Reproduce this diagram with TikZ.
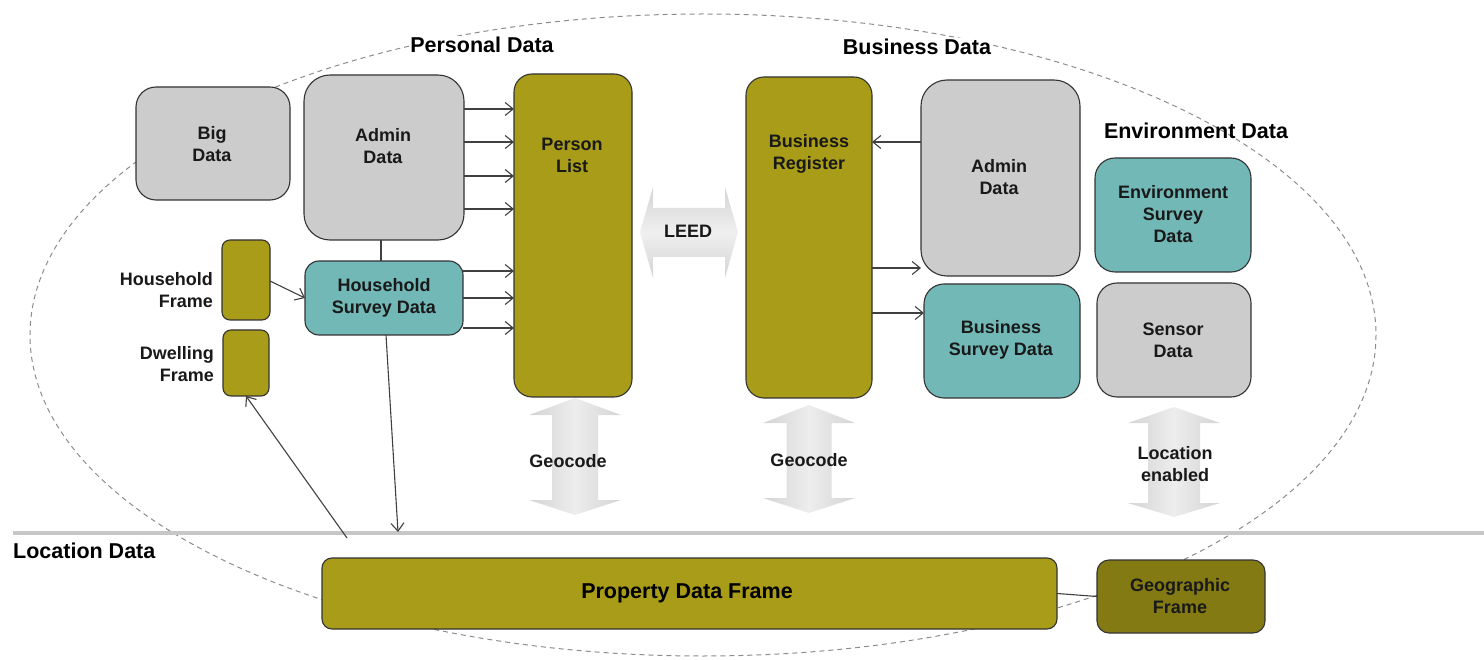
\documentclass[tikz,border=0pt]{standalone}
\usepackage{fontspec}
\setmainfont{Liberation Sans}
\usetikzlibrary{arrows.meta,fit}
\definecolor{olive}{RGB}{168,156,24}
\definecolor{darkolive}{RGB}{132,122,20}
\definecolor{teal2}{RGB}{114,184,182}
\definecolor{lgray}{RGB}{204,204,204}
\definecolor{txt}{RGB}{25,25,25}
\tikzset{
  box/.style={draw=black!80, line width=1.1pt, inner sep=0pt, outer sep=0pt},
  graybox/.style={box, fill=lgray},
  olivebox/.style={box, fill=olive},
  tealbox/.style={box, fill=teal2},
  geobox/.style={box, fill=darkolive},
  btxt/.style={font=\bfseries\fontsize{18}{22}\selectfont, align=center, inner sep=0pt, text=txt},
  htxt/.style={font=\bfseries\fontsize{21.5}{26}\selectfont, inner sep=1pt, text=black},
  arr/.style={draw=black!75, line width=1.1pt, -{Straight Barb[length=8pt,width=13pt]}},
  conn/.style={draw=black!75, line width=1.1pt},
  blockarrow/.style={draw=none},
}
\newcommand{\myvarrow}[7]{% cx ytip hb1 hb2 ybot headhalf shafthalf
  \shade[left color=black!17, right color=black!17, middle color=black!7]
    (#1,#2) -- (#1+#6,#3) -- (#1+#7,#3) -- (#1+#7,#4) -- (#1+#6,#4) -- (#1,#5)
    -- (#1-#6,#4) -- (#1-#7,#4) -- (#1-#7,#3) -- (#1-#6,#3) -- cycle;
}
\begin{document}
\begin{tikzpicture}[x=1pt,y=-1pt]
\useasboundingbox (0,0) rectangle (1484,660);
% dashed ellipse
\draw[black!45, line width=1pt, dash pattern=on 5pt off 4pt] (703,335) ellipse [x radius=673, y radius=321];
% location line
\draw[black!22, line width=4pt] (13,533) -- (1484,533);

% block arrows
\myvarrow{575}{398}{415}{500}{515}{46}{23}
\myvarrow{809}{405}{423}{498}{513}{46}{22.5}
\myvarrow{1174}{407}{423}{503}{517}{46}{26}
\shade[top color=black!17, bottom color=black!17, middle color=black!6]
  (640,232) -- (653,187) -- (653,208) -- (725,208) -- (725,187) -- (738,232)
  -- (725,278) -- (725,257) -- (653,257) -- (653,278) -- cycle;

% boxes
\node[graybox, rounded corners=20pt, fit={(136,87) (290,200)}] (big) {};
\node[graybox, rounded corners=26pt, fit={(304,75) (464,240)}] (adminL) {};
\node[olivebox, rounded corners=18pt, fit={(514,74) (632,397)}] (plist) {};
\node[olivebox, rounded corners=18pt, fit={(746,77) (872,398)}] (breg) {};
\node[graybox, rounded corners=26pt, fit={(921,80) (1080,276)}] (adminR) {};
\node[tealbox, rounded corners=20pt, fit={(924,284) (1080,398)}] (bsurv) {};
\node[tealbox, rounded corners=20pt, fit={(1095,158) (1251,272)}] (envs) {};
\node[graybox, rounded corners=20pt, fit={(1097,283) (1251,397)}] (sensor) {};
\node[olivebox, rounded corners=8pt, fit={(222,240) (270,320)}] (hframe) {};
\node[olivebox, rounded corners=8pt, fit={(223,330) (269,396)}] (dframe) {};
\node[tealbox, rounded corners=14pt, fit={(305,261) (463,335)}] (hsurv) {};
\node[olivebox, rounded corners=10pt, fit={(322,558) (1057,629)}] (pdf) {};
\node[geobox, rounded corners=12pt, fit={(1097,560) (1265,633)}] (geo) {};

% box texts
\node[btxt] (tbig) at (212,144) {Big\\Data};
\node[btxt] (tadminL) at (383,146) {Admin\\Data};
\node[btxt] (tplist) at (572,155) {Person\\List};
\node[btxt] (tbreg) at (809,154) {Business\\Register};
\node[btxt] (tadminR) at (999,177) {Admin\\Data};
\node[btxt] (tbsurv) at (1001,340) {Business\\Survey Data};
\node[btxt] (tenvs) at (1173,214) {Environment\\Survey\\Data};
\node[btxt] (tsensor) at (1173,340) {Sensor\\Data};
\node[btxt] (thsurv) at (384,298) {Household\\Survey Data};
\node[btxt] (tgeo) at (1180,596) {Geographic\\Frame};
\node[htxt] (tpdf) at (687,593) {Property Data Frame};
\node[btxt, align=right, anchor=east] (thf) at (213,290) {Household\\Frame};
\node[btxt, align=right, anchor=east] (tdf) at (214,364) {Dwelling\\Frame};

% headers
\node[htxt, fill=white] (hpers) at (482,45) {Personal Data};
\node[htxt, fill=white] (hbus) at (917,47) {Business Data};
\node[htxt] (henv) at (1196,131) {Environment Data};
\node[htxt, anchor=west, inner sep=0pt] (hloc) at (13,551) {Location Data};

% block arrow labels
\node[btxt] (tleed) at (688,231) {LEED};
\node[btxt] (tgeo1) at (568,461) {Geocode};
\node[btxt] (tgeo2) at (809,460) {Geocode};
\node[btxt] (tlocen) at (1175,464) {Location\\enabled};

% connectors
\foreach \yy in {109,142,176,209}
  \draw[arr] (adminL.east |- 0,\yy) -- (plist.west |- 0,\yy);
\foreach \yy in {271,298,328}
  \draw[arr] (hsurv.east |- 0,\yy) -- (plist.west |- 0,\yy);
\draw[conn] (adminL.south -| 381,0) -- (hsurv.north -| 381,0);
\draw[arr] (hframe.east |- 0,281) -- (hsurv.west |- 0,298);
\coordinate (locA) at (398,532);
\coordinate (locB) at (347,538);
\draw[arr] (hsurv.south -| 386,0) -- (locA);
\draw[arr] (locB) -- (dframe.south);
\draw[arr] (adminR.west |- 0,142) -- (breg.east |- 0,142);
\draw[arr] (breg.east |- 0,268) -- (adminR.west |- 0,268);
\draw[arr] (breg.east |- 0,313) -- (bsurv.west |- 0,313);
\draw[conn] (pdf.east) -- (geo.west);
\end{tikzpicture}
\end{document}
